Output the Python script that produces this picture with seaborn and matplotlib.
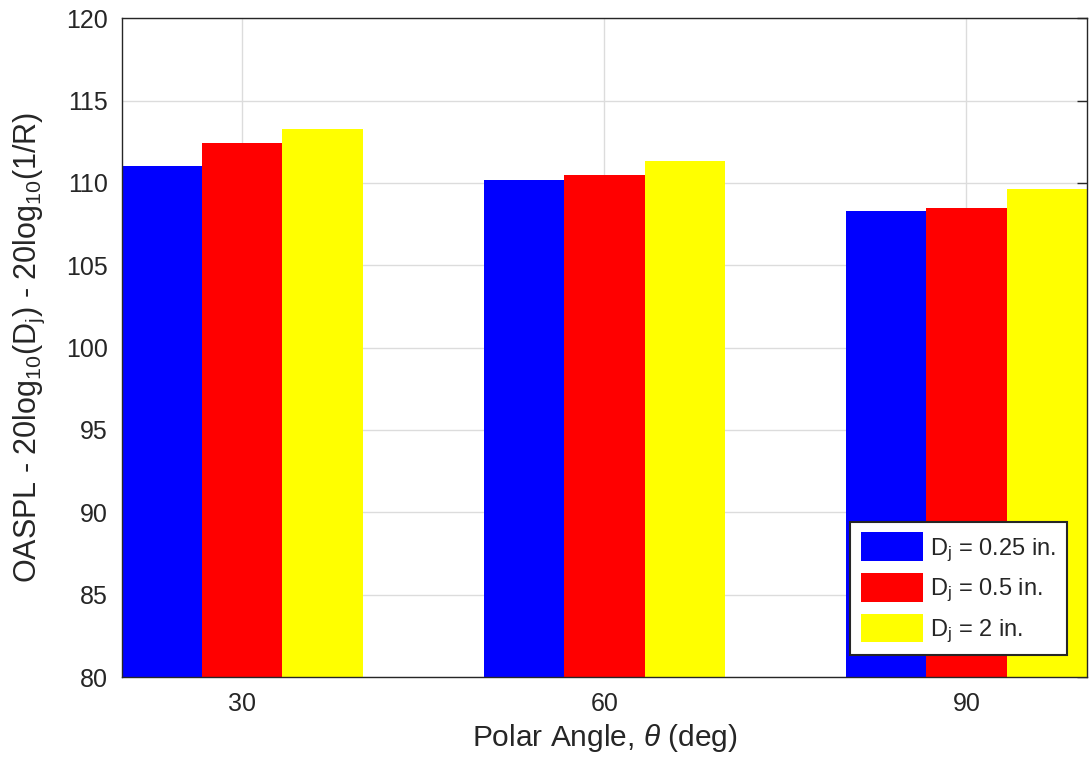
import pandas as pd
import seaborn as sns
import matplotlib.pyplot as plt

# polar angles and jet diameters
angles = ['30', '60', '90']
diameters = ['D$_{\\mathrm{j}}$ = 0.25 in.', 'D$_{\\mathrm{j}}$ = 0.5 in.', 'D$_{\\mathrm{j}}$ = 2 in.']

# normalized OASPL values (dB), one list per diameter
oaspl_025 = [111.0, 110.2, 108.3]
oaspl_05 = [112.4, 110.5, 108.5]
oaspl_2 = [113.3, 111.3, 109.6]

colors = ['#0000ff', '#ff0000', '#ffff00']

rows = []
for d, vals in zip(diameters, [oaspl_025, oaspl_05, oaspl_2]):
    for a, v in zip(angles, vals):
        rows.append({'angle': a, 'diameter': d, 'value': v})
df = pd.DataFrame(rows)

sns.set_style('white')
plt.rcParams['font.family'] = ['Liberation Sans', 'DejaVu Sans']
plt.rcParams['mathtext.fontset'] = 'custom'
plt.rcParams['mathtext.rm'] = 'Liberation Sans'
plt.rcParams['mathtext.it'] = 'Liberation Sans:italic'

fig = plt.figure(figsize=(10.89, 7.67), dpi=100)
ax = fig.add_axes([0.112, 0.1173, 0.886, 0.859])

sns.barplot(data=df, x='angle', y='value', hue='diameter', palette=colors,
            width=0.665, saturation=1, linewidth=0, ax=ax, zorder=2)

ax.set_xlim(-0.3325, 2.3325)
ax.set_ylim(80, 120)
ax.set_yticks(range(80, 121, 5))
ax.grid(True, color='#dcdcdc', linewidth=1)
ax.set_axisbelow(True)

for s in ax.spines.values():
    s.set_color('#262626')
    s.set_linewidth(1)
ax.tick_params(direction='in', top=True, right=True, length=7, width=1,
               colors='#262626', labelsize=18, pad=10)
ax.tick_params(axis='x', length=0, pad=11)

ax.set_xlabel('Polar Angle, $\\theta$ (deg)', fontsize=21.5, color='#262626', labelpad=4)
ax.set_ylabel('OASPL - 20log$_{10}$(D$_{\\mathrm{j}}$) - 20log$_{10}$(1/R)',
              fontsize=22, color='#262626', labelpad=14)

leg = ax.legend(loc='lower right', bbox_to_anchor=(0.979, 0.033), borderaxespad=0,
                fontsize=17, handlelength=2.65, handleheight=1.5, fancybox=False,
                framealpha=1, edgecolor='#262626', labelspacing=0.4,
                handletextpad=0.3, borderpad=0.45)
leg.get_frame().set_linewidth(1.5)

fig.savefig('out.png', dpi=100)
